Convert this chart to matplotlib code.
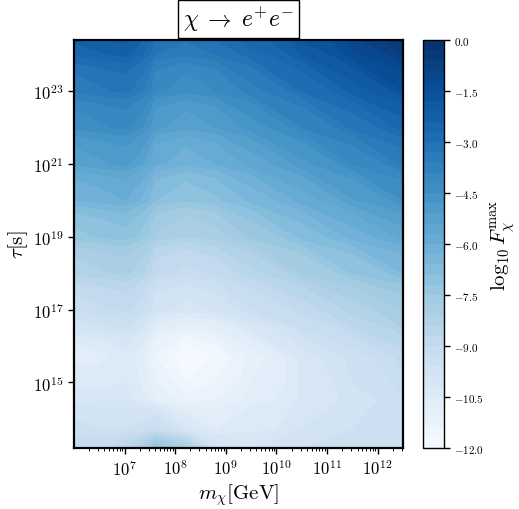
import numpy as np
import matplotlib
matplotlib.use("Agg")
from matplotlib import pyplot as plt
from matplotlib import ticker

plt.rcParams['mathtext.fontset'] = 'cm'
plt.rcParams['font.family'] = 'serif'
plt.rcParams['font.serif'] = ['cmr10', 'DejaVu Serif']
plt.rcParams['axes.formatter.use_mathtext'] = True

# grid: log10 mass [GeV], log10 lifetime [s]
log_m = [6.0, 6.5, 7.0, 7.6, 8.2, 8.8, 9.5, 10.5, 11.5, 12.5]
log_tau = [13.2, 13.7, 14.5, 15.0, 15.7, 16.5, 17.0, 18.0, 19.0, 20.0, 21.0, 22.0, 23.0, 24.0, 24.4]

# log10 F_max, one row per lifetime
logF = [
    [-9.0, -9.1, -8.6, -7.2, -7.9, -9.7, -9.9, -9.6, -9.5, -9.3],
    [-9.5, -9.6, -9.6, -9.2, -10.1, -10.5, -10.3, -9.9, -9.6, -9.4],
    [-10.0, -10.1, -10.1, -10.8, -11.3, -11.1, -10.6, -10.1, -9.7, -9.3],
    [-10.3, -10.4, -10.2, -11.1, -11.7, -11.4, -10.8, -10.1, -9.6, -9.1],
    [-10.7, -10.6, -10.3, -11.4, -12.0, -11.6, -10.9, -10.0, -9.4, -8.8],
    [-9.8, -9.7, -9.5, -10.6, -11.0, -10.8, -10.1, -9.3, -8.7, -8.1],
    [-9.2, -9.05, -8.9, -9.8, -10.0, -9.8, -9.3, -8.8, -8.2, -7.7],
    [-8.3, -8.15, -8.0, -8.9, -9.1, -8.9, -8.45, -7.8, -7.18, -6.6],
    [-7.3, -7.15, -7.0, -7.85, -8.1, -7.9, -7.4, -6.75, -6.1, -5.5],
    [-6.3, -6.15, -6.0, -6.9, -7.15, -6.95, -6.45, -5.8, -5.12, -4.5],
    [-5.3, -5.15, -5.0, -5.95, -6.2, -6.0, -5.52, -4.85, -4.15, -3.5],
    [-4.4, -4.25, -4.1, -5.05, -5.3, -5.1, -4.6, -3.9, -3.17, -2.5],
    [-3.5, -3.35, -3.2, -4.15, -4.4, -4.2, -3.67, -2.95, -2.2, -1.5],
    [-2.6, -2.45, -2.3, -3.3, -3.55, -3.3, -2.8, -2.05, -1.24, -0.5],
    [-2.3, -2.15, -2.0, -3.0, -3.25, -3.0, -2.5, -1.75, -0.94, -0.2],
]

cbar_ticks = [0.0, -1.5, -3.0, -4.5, -6.0, -7.5, -9.0, -10.5, -12.0]

M, T = np.meshgrid(10.0 ** np.array(log_m), 10.0 ** np.array(log_tau))
Z = np.array(logF)

fig = plt.figure(figsize=(5.19, 5.10), dpi=100)
ax = fig.add_axes([74 / 519, 61 / 510, 329 / 519, 408 / 510])
cax = fig.add_axes([423 / 519, 61 / 510, 21 / 519, 408 / 510])

levels = np.linspace(-12, 0, 41)
cs = ax.contourf(M, T, Z, levels=levels, cmap='Blues', vmin=-12, vmax=0)
ax.set_xscale('log')
ax.set_yscale('log')
ax.set_xlim(10 ** 6.0, 10 ** 12.5)
ax.set_ylim(10 ** 13.2, 10 ** 24.4)

ax.set_xticks([10.0 ** k for k in range(7, 13)])
ax.xaxis.set_minor_locator(ticker.LogLocator(base=10, subs=np.arange(2, 10), numticks=20))
ax.xaxis.set_minor_formatter(ticker.NullFormatter())
ax.set_yticks([10.0 ** k for k in range(15, 24, 2)])
ax.yaxis.set_minor_locator(ticker.NullLocator())
ax.tick_params(axis='both', which='major', labelsize=12, length=4, width=1)
ax.tick_params(axis='both', which='minor', length=2, width=0.7)
for s in ax.spines.values():
    s.set_linewidth(1.6)

ax.set_xlabel(r'$m_\chi[\mathrm{GeV}]$', fontsize=15, labelpad=2)
ax.set_ylabel(r'$\tau[\mathrm{s}]$', fontsize=15, labelpad=2)
ax.set_title(r'$\chi\;\rightarrow\; e^{+}e^{-}$', fontsize=17, pad=10,
             bbox=dict(boxstyle='square,pad=0.2', fc='white', ec='black', lw=1))

cb = fig.colorbar(cs, cax=cax, ticks=cbar_ticks)
cb.ax.set_yticklabels([r'$%.1f$' % v for v in cbar_ticks])
cb.ax.tick_params(labelsize=8, length=4, width=1)
cb.outline.set_linewidth(1)
cb.set_label(r'$\log_{10} F_\chi^{\max}$', fontsize=15, labelpad=4)

fig.savefig('out.png', dpi=100)
